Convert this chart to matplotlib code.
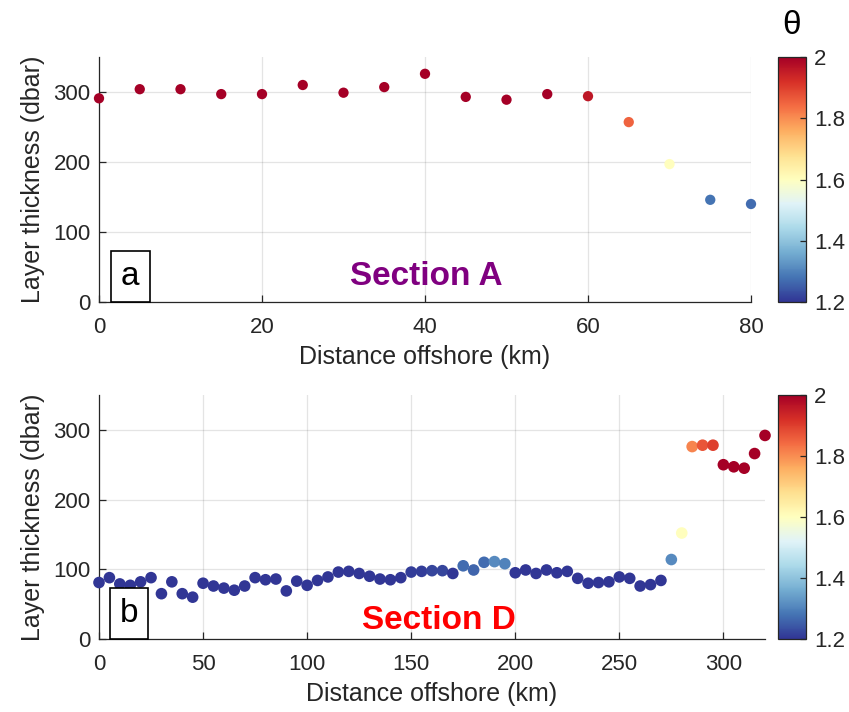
import numpy as np
import matplotlib
matplotlib.use("Agg")
import matplotlib.pyplot as plt
from matplotlib.colors import Normalize

plt.rcParams['font.family'] = ['Liberation Sans', 'DejaVu Sans']

# ---- Section A data ----
distA = [0, 5, 10, 15, 20, 25, 30, 35, 40, 45, 50, 55, 60, 65, 70, 75, 80]
thickA = [291, 304, 304, 297, 297, 310, 299, 307, 326, 293, 289, 297, 294, 257, 197, 146, 140]
thetaA = [2.05, 2.05, 2.05, 2.05, 2.05, 2.05, 2.05, 2.05, 2.05, 2.05, 2.05, 2.05, 1.96,
          1.85, 1.6, 1.28, 1.27]

# ---- Section D data ----
distD = list(range(0, 325, 5))
thickD = [81, 88, 79, 77, 82, 88, 65, 82, 65, 60,
          80, 76, 73, 70, 76, 88, 85, 86, 69, 83,
          77, 84, 89, 96, 97, 94, 90, 86, 85, 88,
          96, 97, 98, 98, 94, 105, 99, 110, 111, 108,
          95, 99, 94, 99, 95, 97, 87, 80, 81, 82,
          89, 87, 76, 78, 84, 114, 152, 276, 278, 278,
          250, 247, 245, 266, 292]
thetaD = [1.18] * 30 + [1.21, 1.21, 1.22, 1.22, 1.19, 1.27, 1.26, 1.27, 1.31, 1.30] + \
         [1.18] * 15 + [1.31, 1.6, 1.81, 1.87, 1.9, 2.05, 2.05, 2.05, 2.05, 2.05]

xticksA = [0, 20, 40, 60, 80]
xticksD = [0, 50, 100, 150, 200, 250, 300]
yticks = [0, 100, 200, 300]
cticks = [1.2, 1.4, 1.6, 1.8, 2.0]
cticklabels = ['1.2', '1.4', '1.6', '1.8', '2']

W, H = 849, 712
fig = plt.figure(figsize=(W / 100, H / 100), dpi=100)

def fr(l, t, r, b):
    return [l / W, (H - b) / H, (r - l) / W, (b - t) / H]

axA = fig.add_axes(fr(99, 57, 751, 302))
axD = fig.add_axes(fr(99, 395, 765, 639))
caxA = fig.add_axes(fr(778, 57, 806, 302))
caxD = fig.add_axes(fr(778, 395, 806, 639))

cmap = plt.get_cmap('RdYlBu_r')
norm = Normalize(vmin=1.2, vmax=2.0)
spine_col = '#262626'

def style(ax, xlim, xticks):
    ax.set_xlim(*xlim)
    ax.set_ylim(0, 350)
    ax.set_xticks(xticks)
    ax.set_yticks(yticks)
    ax.grid(True, color='#262626', alpha=0.12, linewidth=0.9)
    ax.set_axisbelow(True)
    for s in ['top', 'right']:
        ax.spines[s].set_visible(False)
    for s in ['left', 'bottom']:
        ax.spines[s].set_color(spine_col)
        ax.spines[s].set_linewidth(0.9)
    ax.tick_params(direction='in', length=5, width=0.9, color=spine_col,
                   labelsize=16, labelcolor='#262626')
    ax.tick_params(axis='x', pad=11)
    ax.tick_params(axis='y', pad=6)
    ax.set_xlabel('Distance offshore (km)', fontsize=18, color='#262626', labelpad=5)
    ax.set_ylabel('Layer thickness (dbar)', fontsize=18, color='#262626', labelpad=6)

scA = axA.scatter(distA, thickA, c=thetaA, cmap=cmap, norm=norm, s=55,
                  edgecolors='none', zorder=3, clip_on=False)
style(axA, (0, 80), xticksA)
scD = axD.scatter(distD, thickD, c=thetaD, cmap=cmap, norm=norm, s=70,
                  edgecolors='none', zorder=3, clip_on=False)
style(axD, (0, 320), xticksD)

# panel labels
for ax, lab, xx, yy in [(axA, 'a', 0.048, 0.105), (axD, 'b', 0.045, 0.105)]:
    ax.text(xx, yy, lab, transform=ax.transAxes, fontsize=24, ha='center', va='center',
            bbox=dict(boxstyle='square,pad=0.3', fc='white', ec='black', lw=1.2), zorder=5)

axA.text(0.502, 0.105, 'Section A', transform=axA.transAxes, fontsize=24,
         fontweight='bold', color='#800080', ha='center', va='center')
axD.text(0.51, 0.075, 'Section D', transform=axD.transAxes, fontsize=24,
         fontweight='bold', color='#ff0000', ha='center', va='center')

for cax, sc in [(caxA, scA), (caxD, scD)]:
    cb = fig.colorbar(sc, cax=cax, ticks=cticks)
    cb.ax.set_yticklabels(cticklabels)
    cb.ax.tick_params(direction='in', length=4, width=0.9, color=spine_col,
                      labelsize=16, labelcolor='#262626', pad=6)
    cb.outline.set_edgecolor(spine_col)
    cb.outline.set_linewidth(0.9)

fig.text(792 / W, 1 - 26 / H, 'θ', fontsize=24, ha='center', va='center', color='black')

fig.savefig('out.png', dpi=100)
